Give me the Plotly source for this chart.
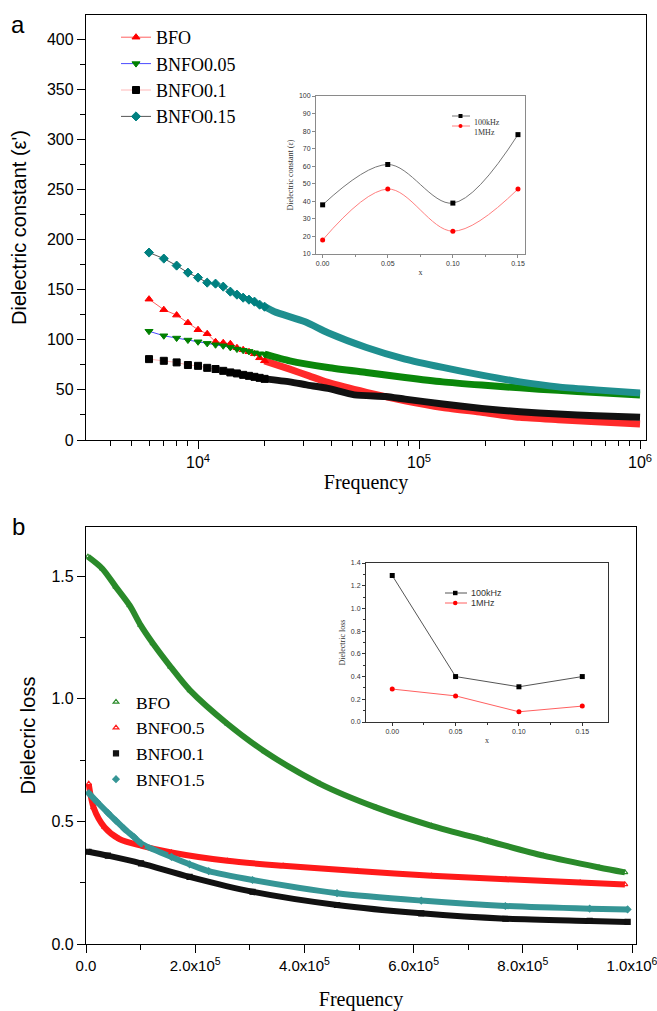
import plotly.graph_objects as go

# ---------------- Panel a: dielectric constant vs frequency (log) ----------------
freq_a_low = [6000, 7000, 8000, 9000, 10000, 11000, 12000, 13000, 14000,
              15000, 16000, 17000, 18000, 19000, 20000]
bfo_a_low = [140.5, 130, 124.6, 117, 110, 106, 98, 97, 96, 92, 90, 88, 86, 82, 79]
bnfo005_a_low = [108.5, 104, 101.7, 99.7, 98, 96.4, 95, 94, 92.4, 90.7, 89.5, 88.4, 87, 86, 85.7]
bnfo01_a_low = [80.7, 79, 77.4, 74.8, 74, 72, 70.8, 69, 67.4, 66.4, 65, 64, 63, 62, 61]
bnfo015_a_low = [187, 181, 174, 167, 162, 157, 156, 153, 148, 145, 142, 140, 138, 135, 133]

freq_bfo_a_high = [26000, 31800, 38700, 57800, 86400, 128000, 192000, 286000, 426000, 632000, 1000000]
bfo_a_high = [70.7, 64, 57.4, 47.5, 39.2, 32.5, 27.6, 22.6, 20.3, 18.3, 16]
freq_bnfo005_a_high = [26000, 38700, 57800, 86400, 128000, 192000, 286000, 426000, 632000, 1000000]
bnfo005_a_high = [79, 72.4, 67.4, 62.4, 58, 54.8, 52, 49.5, 47.5, 44.8]
freq_bnfo01_a_high = [26000, 31000, 38700, 51000, 70600, 86400, 128000, 192000, 286000, 426000, 632000, 1000000]
bnfo01_a_high = [58, 55, 51.5, 45, 43.5, 40.8, 35.9, 31.5, 28.2, 25.9, 24.2, 22.6]
freq_bnfo015_a_high = [22200, 30500, 38700, 57800, 86400, 128000, 192000, 286000, 426000, 632000, 1000000]
bnfo015_a_high = [128, 118, 107, 92.3, 80.7, 72.4, 64.7, 58, 53, 50, 46.8]

names_a = ["BFO", "BNFO0.05", "BNFO0.1", "BNFO0.15"]

# inset a
x_inset = [0.00, 0.05, 0.10, 0.15]
eps_100k = [38, 61, 39, 78]
eps_1M = [18, 47, 23, 47]

# ---------------- Panel b: dielectric loss vs frequency (linear) ----------------
freq_bfo_b = [3500, 30000, 54600, 80000, 100000, 122700, 155000, 190500, 258800, 327000,
              428600, 531000, 633000, 735000, 837500, 939600, 987000]
bfo_b = [1.579, 1.53, 1.456, 1.38, 1.30, 1.225, 1.13, 1.034, 0.898, 0.785,
         0.653, 0.557, 0.482, 0.421, 0.360, 0.312, 0.292]
freq_bnfo05_b = [5000, 13800, 34000, 61000, 102000, 156600, 258800, 361000, 497000, 633000,
                 769000, 905000, 987000]
bnfo05_b = [0.653, 0.557, 0.476, 0.428, 0.40, 0.373, 0.339, 0.319, 0.298, 0.278, 0.264, 0.251, 0.243]
freq_bnfo01_b = [4500, 40000, 100800, 189700, 305000, 459700, 614000, 768000, 922500, 992000]
bnfo01_b = [0.376, 0.36, 0.329, 0.274, 0.213, 0.159, 0.125, 0.103, 0.094, 0.09]
freq_bnfo15_b = [5000, 20000, 40000, 54600, 70000, 88500, 100800, 156600, 189700, 224700,
                 305000, 459700, 614000, 768000, 922500, 992000]
bnfo15_b = [0.615, 0.58, 0.535, 0.503, 0.47, 0.435, 0.41, 0.355, 0.325, 0.297,
            0.261, 0.207, 0.177, 0.155, 0.144, 0.141]
names_b = ["BFO", "BNFO0.5", "BNFO0.1", "BNFO1.5"]

# inset b
loss_100k = [1.29, 0.40, 0.31, 0.40]
loss_1M = [0.29, 0.23, 0.09, 0.14]

W, H = 657, 1011
def px(x): return x / W
def py(y): return 1 - y / H

SERIF = "Liberation Serif"
SANS = "Liberation Sans"

fig = go.Figure()

# ---- panel a traces ----
series_a = [
    (names_a[0], freq_a_low, bfo_a_low, freq_bfo_a_high, bfo_a_high, "#ff0000", "#ff6060", "triangle-up", "#ff2a2a"),
    (names_a[1], freq_a_low, bnfo005_a_low, freq_bnfo005_a_high, bnfo005_a_high, "#008000", "#4a4aff", "triangle-down", "#0a870a"),
    (names_a[2], freq_a_low, bnfo01_a_low, freq_bnfo01_a_high, bnfo01_a_high, "#000000", "#ffb8b8", "square", "#111111"),
    (names_a[3], freq_a_low, bnfo015_a_low, freq_bnfo015_a_high, bnfo015_a_high, "#008080", "#555555", "diamond", "#1f8f8f"),
]
for name, fl, vl, fh, vh, mc, lc, sym, bc in series_a:
    fig.add_trace(go.Scatter(x=fl[-1:] + fh, y=vl[-1:] + vh, mode="lines", xaxis="x", yaxis="y",
                             line=dict(color=bc, width=7, shape="spline", smoothing=0.6),
                             showlegend=False, hoverinfo="skip"))
for name, fl, vl, fh, vh, mc, lc, sym, bc in series_a:
    fig.add_trace(go.Scatter(x=fl, y=vl, mode="lines+markers", name=name, xaxis="x", yaxis="y",
                             line=dict(color=lc, width=1),
                             marker=dict(symbol=sym, size=7, color=mc,
                                         line=dict(color=mc, width=1)),
                             legend="legend"))

# ---- inset a ----
fig.add_trace(go.Scatter(x=x_inset, y=eps_100k, mode="lines+markers", xaxis="x2", yaxis="y2",
                         line=dict(color="#777777", width=1, shape="spline", smoothing=1.0),
                         marker=dict(symbol="square", size=5, color="black"), showlegend=False))
fig.add_trace(go.Scatter(x=x_inset, y=eps_1M, mode="lines+markers", xaxis="x2", yaxis="y2",
                         line=dict(color="#ff8080", width=1, shape="spline", smoothing=1.0),
                         marker=dict(symbol="circle", size=5, color="red"), showlegend=False))

# ---- panel b traces ----
series_b = [
    (names_b[0], freq_bfo_b, bfo_b, "#2a8a2a", "triangle-up-open"),
    (names_b[1], freq_bnfo05_b, bnfo05_b, "#ff1a1a", "triangle-up-open"),
    (names_b[2], freq_bnfo01_b, bnfo01_b, "#111111", "square"),
    (names_b[3], freq_bnfo15_b, bnfo15_b, "#359595", "diamond"),
]
for name, f, v, c, sym in series_b:
    fig.add_trace(go.Scatter(x=f, y=v, mode="lines", xaxis="x3", yaxis="y3",
                             line=dict(color=c, width=6, shape="spline", smoothing=0.8),
                             showlegend=False, hoverinfo="skip"))
for name, f, v, c, sym in series_b:
    fig.add_trace(go.Scatter(x=f, y=v, mode="markers", name=name, xaxis="x3", yaxis="y3",
                             marker=dict(symbol=sym, size=5, color=c, line=dict(color=c, width=1.2)),
                             legend="legend2"))

# ---- inset b ----
fig.add_trace(go.Scatter(x=x_inset, y=loss_100k, mode="lines+markers", xaxis="x4", yaxis="y4",
                         line=dict(color="#555555", width=1),
                         marker=dict(symbol="square", size=5, color="black"), showlegend=False))
fig.add_trace(go.Scatter(x=x_inset, y=loss_1M, mode="lines+markers", xaxis="x4", yaxis="y4",
                         line=dict(color="#ff6060", width=1),
                         marker=dict(symbol="circle", size=5, color="red"), showlegend=False))

axis_common = dict(showline=True, linecolor="black", linewidth=1.3, mirror=True, automargin=False,
                   ticks="outside", tickcolor="black", showgrid=False, zeroline=False,
                   ticklabeloverflow="allow",
                   tickfont=dict(family=SANS, size=16, color="black"))

inset_common = dict(showline=True, linewidth=1, mirror=True, ticks="outside", ticklen=3,
                    showgrid=False, zeroline=False, automargin=False)

minor_log = [m * 10 ** e for e in (3, 4, 5) for m in range(2, 10) if 3000 <= m * 10 ** e <= 1e6]

fig.update_layout(
    width=W, height=H, margin=dict(l=0, r=0, t=0, b=0, autoexpand=False),
    paper_bgcolor="white", plot_bgcolor="white",
    xaxis=dict(axis_common, domain=[px(86), px(646)], anchor="y", type="log",
               range=[3.493, 6.027], tickvals=[1e4, 1e5, 1e6],
               ticktext=["10<sup>4</sup>", "10<sup>5</sup>", "10<sup>6</sup>"], ticklen=8,
               minor=dict(tickmode="array", tickvals=minor_log, ticks="outside", ticklen=5, tickcolor="black"),
               title=dict(text="Frequency", font=dict(family=SERIF, size=20, color="black"), standoff=0)),
    yaxis=dict(axis_common, domain=[py(440), py(15)], anchor="x", range=[0, 424],
               tickvals=[0, 50, 100, 150, 200, 250, 300, 350, 400], ticklen=8,
               minor=dict(tickmode="array", tickvals=[25, 75, 125, 175, 225, 275, 325, 375, 425],
                          ticks="outside", ticklen=5, tickcolor="black"),
               title=dict(text="Dielectric constant (ε')", font=dict(family=SANS, size=20, color="black"), standoff=14)),
    xaxis2=dict(inset_common, domain=[px(316), px(525)], anchor="y2", range=[-0.0051, 0.1554],
                linecolor="#8a8a8a", tickcolor="#8a8a8a",
                tickvals=x_inset, ticktext=["0.00", "0.05", "0.10", "0.15"],
                tickfont=dict(family=SANS, size=7, color="#333"),
                minor=dict(tickmode="array", tickvals=[0.025, 0.075, 0.125], ticks="outside", ticklen=2, tickcolor="#8a8a8a"),
                title=dict(text="x", font=dict(family=SERIF, size=8, color="#333"), standoff=2)),
    yaxis2=dict(inset_common, domain=[py(254), py(96)], anchor="x2", range=[10, 100], dtick=10,
                linecolor="#8a8a8a", tickcolor="#8a8a8a",
                tickfont=dict(family=SANS, size=7, color="#333"),
                title=dict(text="Dielectric constant (ε)", font=dict(family=SERIF, size=8, color="#333"), standoff=4)),
    xaxis3=dict(axis_common, domain=[px(86), px(636)], anchor="y3", range=[0, 1.0073e6],
                tickvals=[0, 2e5, 4e5, 6e5, 8e5, 1e6],
                ticktext=["0.0", "2.0x10<sup>5</sup>", "4.0x10<sup>5</sup>", "6.0x10<sup>5</sup>",
                          "8.0x10<sup>5</sup>", "1.0x10<sup>6</sup>"], ticklen=8,
                tickfont=dict(family=SANS, size=15, color="black"),
                minor=dict(tickmode="array", tickvals=[1e5, 3e5, 5e5, 7e5, 9e5], ticks="outside", ticklen=5, tickcolor="black"),
                title=dict(text="Frequency", font=dict(family=SERIF, size=20, color="black"), standoff=20)),
    yaxis3=dict(axis_common, domain=[py(944), py(527)], anchor="x3", range=[0, 1.70],
                tickvals=[0, 0.5, 1.0, 1.5], ticktext=["0.0", "0.5", "1.0", "1.5"], ticklen=8,
                minor=dict(tickmode="array", tickvals=[0.25, 0.75, 1.25], ticks="outside", ticklen=5, tickcolor="black"),
                title=dict(text="Dielecric loss", font=dict(family=SANS, size=20, color="black"), standoff=10)),
    xaxis4=dict(inset_common, domain=[px(366), px(608)], anchor="y4", range=[-0.0207, 0.1703],
                linecolor="#333", tickcolor="#333",
                tickvals=x_inset, ticktext=["0.00", "0.05", "0.10", "0.15"],
                tickfont=dict(family=SANS, size=7, color="#333"),
                minor=dict(tickmode="array", tickvals=[0.025, 0.075, 0.125], ticks="outside", ticklen=2, tickcolor="#333"),
                title=dict(text="x", font=dict(family=SERIF, size=8, color="#333"), standoff=2)),
    yaxis4=dict(inset_common, domain=[py(722), py(563)], anchor="x4", range=[0, 1.4], dtick=0.2,
                tickformat=".1f", linecolor="#333", tickcolor="#333",
                tickfont=dict(family=SANS, size=7, color="#333"),
                minor=dict(dtick=0.1, tick0=0, ticks="outside", ticklen=2, tickcolor="#333"),
                title=dict(text="Dielectric loss", font=dict(family=SERIF, size=8, color="#333"), standoff=4)),
    legend=dict(x=px(116), y=py(19), xanchor="left", yanchor="top", bgcolor="rgba(0,0,0,0)",
                font=dict(family=SERIF, size=18, color="black"), tracegroupgap=0, itemwidth=30),
    legend2=dict(x=px(96), y=py(684), xanchor="left", yanchor="top", bgcolor="rgba(0,0,0,0)",
                 font=dict(family=SERIF, size=17.5, color="black"), tracegroupgap=0, itemwidth=30),
)

annotations = [
    dict(text="a", x=px(18), y=py(24), xref="paper", yref="paper", xanchor="center", yanchor="middle",
         showarrow=False, font=dict(family=SANS, size=24, color="black")),
    dict(text="b", x=px(18), y=py(526), xref="paper", yref="paper", xanchor="center", yanchor="middle",
         showarrow=False, font=dict(family=SANS, size=24, color="black")),
    dict(text="100kHz", x=px(472), y=py(116), xref="paper", yref="paper", xanchor="left", showarrow=False,
         font=dict(family=SERIF, size=8, color="#333")),
    dict(text="1MHz", x=px(472), y=py(126), xref="paper", yref="paper", xanchor="left", showarrow=False,
         font=dict(family=SERIF, size=8, color="#333")),
    dict(text="100kHz", x=px(469), y=py(593), xref="paper", yref="paper", xanchor="left", showarrow=False,
         font=dict(family=SANS, size=9, color="#333")),
    dict(text="1MHz", x=px(469), y=py(603), xref="paper", yref="paper", xanchor="left", showarrow=False,
         font=dict(family=SANS, size=9, color="#333")),
]
shapes = [
    dict(type="line", xref="paper", yref="paper", x0=px(452), x1=px(470), y0=py(116), y1=py(116), line=dict(color="#777", width=1)),
    dict(type="rect", xref="paper", yref="paper", x0=px(458.5), x1=px(462.5), y0=py(118), y1=py(114), fillcolor="black", line=dict(width=0)),
    dict(type="line", xref="paper", yref="paper", x0=px(452), x1=px(470), y0=py(126), y1=py(126), line=dict(color="#ff8080", width=1)),
    dict(type="circle", xref="paper", yref="paper", x0=px(458.5), x1=px(462.5), y0=py(128), y1=py(124), fillcolor="red", line=dict(width=0)),
    dict(type="line", xref="paper", yref="paper", x0=px(445), x1=px(467), y0=py(593), y1=py(593), line=dict(color="#555", width=1)),
    dict(type="rect", xref="paper", yref="paper", x0=px(453), x1=px(457.5), y0=py(595.2), y1=py(590.8), fillcolor="black", line=dict(width=0)),
    dict(type="line", xref="paper", yref="paper", x0=px(445), x1=px(467), y0=py(603), y1=py(603), line=dict(color="#ff6060", width=1)),
    dict(type="circle", xref="paper", yref="paper", x0=px(453), x1=px(457.5), y0=py(605.2), y1=py(600.8), fillcolor="red", line=dict(width=0)),
]
fig.update_layout(annotations=annotations, shapes=shapes)

fig.write_html("out.html", config={"displayModeBar": False},
               post_script="document.body.style.margin='0';document.body.style.overflow='hidden';")
